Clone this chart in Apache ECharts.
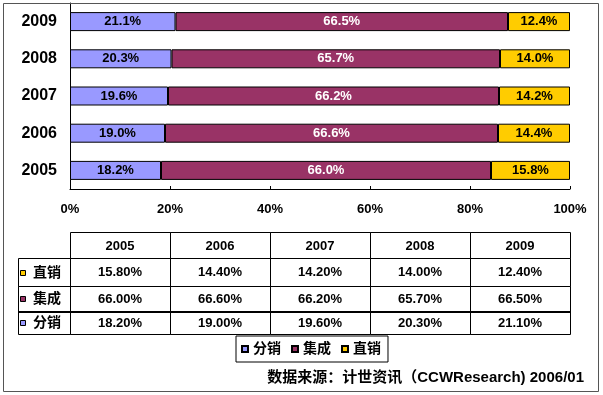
<!DOCTYPE html>
<html>
<head>
<meta charset="utf-8">
<script src="https://cdn.jsdelivr.net/npm/echarts@6/dist/echarts.min.js"></script>
<style>
html,body{margin:0;padding:0;background:#fff;}
#chart{width:603px;height:395px;}
</style>
</head>
<body>
<div id="chart"></div>
<script>
// ---- data ----
const years = ['2005', '2006', '2007', '2008', '2009'];
const fenxiao = [18.2, 19.0, 19.6, 20.3, 21.1];   // 分销
const jicheng = [66.0, 66.6, 66.2, 65.7, 66.5];   // 集成
const zhixiao = [15.8, 14.4, 14.2, 14.0, 12.4];   // 直销
const seriesNames = ['分销', '集成', '直销'];
const xTicks = [0, 20, 40, 60, 80, 100];
const sourceText = '数据来源：计世资讯（CCWResearch) 2006/01';

const FONT = 'Arial, "Liberation Sans", "Noto Sans CJK SC", sans-serif';
const colors = ['#9999FF', '#993366', '#FFCC00'];

const chart = echarts.init(document.getElementById('chart'), null, {renderer: 'canvas'});

function lbl(color) {
  return {
    show: true, position: 'inside', color: color,
    fontFamily: FONT, fontWeight: 'bold', fontSize: 13,
    formatter: p => p.value.toFixed(1) + '%'
  };
}

chart.setOption({
  animation: false,
  backgroundColor: '#fff',
  color: colors,
  grid: {left: 70, right: 33, top: 3, bottom: 206, containLabel: false},
  xAxis: {
    type: 'value', min: xTicks[0], max: xTicks[xTicks.length - 1], interval: 20,
    splitLine: {show: false},
    axisLine: {show: true, lineStyle: {color: '#000', width: 1}},
    axisTick: {show: true, inside: true, length: 3, lineStyle: {color: '#000'}},
    axisLabel: {color: '#000', fontFamily: FONT, fontWeight: 'bold', fontSize: 13, margin: 14,
      formatter: '{value}%'}
  },
  yAxis: {
    type: 'category', data: years,
    axisLine: {show: true, lineStyle: {color: '#000', width: 1}},
    axisTick: {show: false},
    axisLabel: {color: '#000', fontFamily: FONT, fontWeight: 'bold', fontSize: 16, margin: 13}
  },
  legend: {
    data: seriesNames,
    left: 236, top: 336,
    orient: 'horizontal',
    itemWidth: 6, itemHeight: 6, itemGap: 10,
    padding: [4, 7, 4, 5],
    borderColor: '#000', borderWidth: 1,
    icon: 'rect',
    selectedMode: false,
    textStyle: {color: '#000', fontFamily: FONT, fontWeight: 'bold', fontSize: 14, lineHeight: 18}
  },
  series: [
    {name: seriesNames[0], type: 'bar', stack: 'a', data: fenxiao, barWidth: 19,
     itemStyle: {color: colors[0], borderColor: '#000', borderWidth: 1}, label: lbl('#000')},
    {name: seriesNames[1], type: 'bar', stack: 'a', data: jicheng, barWidth: 19,
     itemStyle: {color: colors[1], borderColor: '#000', borderWidth: 1}, label: lbl('#fff')},
    {name: seriesNames[2], type: 'bar', stack: 'a', data: zhixiao, barWidth: 19,
     itemStyle: {color: colors[2], borderColor: '#000', borderWidth: 1}, label: lbl('#000')}
  ]
});

// ---- data table under the chart, columns aligned with the x axis ticks ----
const colX = xTicks.map(v => chart.convertToPixel({xAxisIndex: 0}, v));
const rowY = [232, 258, 285.5, 311, 333.5];
const keyLeft = 18;
const tableRows = [
  {name: seriesNames[2], color: colors[2], values: zhixiao},
  {name: seriesNames[1], color: colors[1], values: jicheng},
  {name: seriesNames[0], color: colors[0], values: fenxiao}
];
const g = [];
const cellStyle = {fill: 'none', stroke: '#000', lineWidth: 1};
const txt = (x, y, s, align, size) => ({
  type: 'text', x: x, y: y,
  style: {text: s, fill: '#000', font: 'bold ' + (size || 13) + 'px ' + FONT,
          align: align || 'center', verticalAlign: 'middle'}
});
const r = v => Math.round(v) + 0.5;
// header
for (let i = 0; i < years.length; i++) {
  g.push({type: 'rect', shape: {x: r(colX[i]), y: r(rowY[0]), width: Math.round(colX[i + 1] - colX[i]), height: Math.round(rowY[1] - rowY[0])}, style: cellStyle});
  g.push(txt((colX[i] + colX[i + 1]) / 2, (rowY[0] + rowY[1]) / 2 + 1, years[i]));
}
// rows
tableRows.forEach((row, j) => {
  const y0 = rowY[j + 1], y1 = rowY[j + 2];
  const ym = (y0 + y1) / 2 + 1;
  g.push({type: 'rect', shape: {x: r(keyLeft), y: r(y0), width: Math.round(colX[0] - keyLeft), height: Math.round(y1 - y0)}, style: cellStyle});
  g.push({type: 'rect', shape: {x: 20.5, y: Math.round(ym - 3) + 0.5, width: 5, height: 5}, style: {fill: row.color, stroke: '#000', lineWidth: 1}});
  g.push(txt(33, ym, row.name, 'left', 14));
  for (let i = 0; i < years.length; i++) {
    g.push({type: 'rect', shape: {x: r(colX[i]), y: r(y0), width: Math.round(colX[i + 1] - colX[i]), height: Math.round(y1 - y0)}, style: cellStyle});
    g.push(txt((colX[i] + colX[i + 1]) / 2, ym, row.values[i].toFixed(2) + '%'));
  }
});
// source note
g.push(txt(584, 378, sourceText, 'right', 15));
// outer frame
g.push({type: 'rect', shape: {x: 3.5, y: 3.5, width: 595, height: 388}, style: {fill: 'none', stroke: '#555', lineWidth: 1}, z: 100});

chart.setOption({graphic: g});
</script>
</body>
</html>
